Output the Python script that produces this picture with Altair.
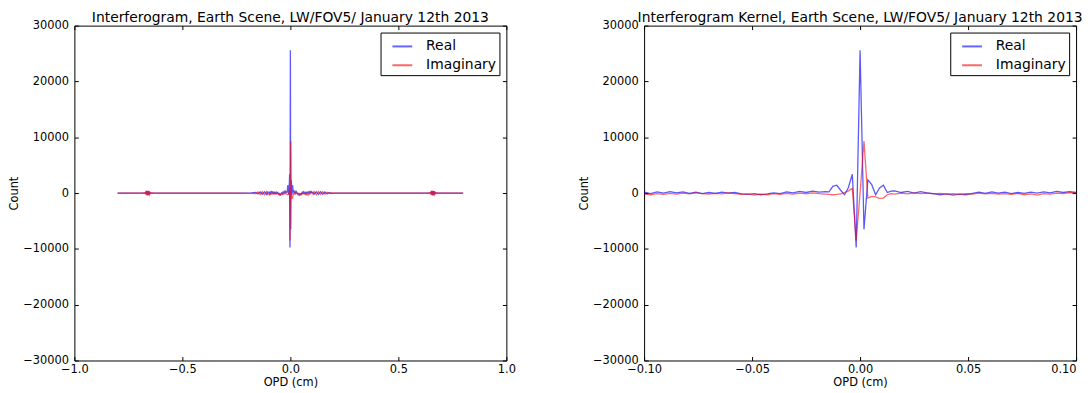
import altair as alt
import pandas as pd

FONT = "DejaVu Sans"
BLUE = "#0000ff"
RED = "#ff0000"

# ---------------- data ----------------
# kernel region (right panel, and centre of left panel)
k_opd_left = [-0.100, -0.097, -0.094, -0.091, -0.088, -0.085, -0.082, -0.079, -0.076, -0.073,
              -0.070, -0.067, -0.064, -0.061, -0.058, -0.055, -0.052, -0.049, -0.046, -0.043,
              -0.040, -0.037, -0.034, -0.031, -0.028, -0.025, -0.022, -0.019, -0.016]
k_real_left = [150, -100, 200, 0, 250, 50, 200, -50, 150, -100,
               100, -50, 150, 0, 100, -150, -250, -100, -300, -150,
               50, -100, 200, 50, 300, 100, 350, 150, 250]
k_imag_left = [-150, -300, -100, -250, -50, -200, 0, -150, 50, -100,
               -200, -50, -150, 50, -100, -250, -150, -350, -200, -300,
               -100, -250, -50, -200, 0, -150, 50, -100, -200]

k_opd_mid = [-0.0144, -0.0126, -0.0108, -0.0090, -0.0072, -0.0054, -0.0036, -0.0018, 0.0,
             0.0018, 0.0036, 0.0054, 0.0072, 0.0090, 0.0108, 0.0126, 0.0144]
k_real_mid = [200, 1200, 1400, 500, -300, 1000, 3370, -9750, 25600,
              -6500, 2350, 1500, -300, 900, 1400, 100, 350]
k_imag_mid = [-250, -300, -250, -150, 100, 400, 850, -8500, 0,
              9300, -900, -600, -700, -950, -900, -300, -100]

k_opd_right = [0.016, 0.019, 0.022, 0.025, 0.028, 0.031, 0.034, 0.037, 0.040, 0.043,
               0.046, 0.049, 0.052, 0.055, 0.058, 0.061, 0.064, 0.067, 0.070, 0.073,
               0.076, 0.079, 0.082, 0.085, 0.088, 0.091, 0.094, 0.097, 0.100]
k_real_right = [400, 100, 300, 0, 250, 50, -100, -300, -150, -350,
                -200, -300, -50, 150, -50, 200, 0, 150, -100, 100,
                -50, 150, 0, 200, 50, 300, 100, 250, 100]
k_imag_right = [-200, 0, -150, 50, -100, 0, -150, -50, -200, -100,
                -250, -100, -200, 0, -150, -50, -200, -100, -250, -50,
                -300, -150, -350, -100, -200, 0, -100, 100, 50]

# outer wings of the full interferogram (left panel only)
w_opd_left = [-0.800, -0.740, -0.690,
              -0.672, -0.669, -0.666, -0.663, -0.660, -0.657, -0.654, -0.651, -0.648,
              -0.630, -0.550, -0.450, -0.350, -0.250,
              -0.180, -0.160, -0.150, -0.140, -0.130, -0.120, -0.110, -0.105]
w_real_left = [0, 0, 0,
               0, 200, -250, 350, -350, 300, -250, 150, 0,
               0, 0, 0, 0, 0,
               50, 100, -150, 200, -200, 250, -250, 200]
w_imag_left = [0, 0, 0,
               50, -300, 400, -450, 450, -400, 350, -250, 50,
               0, 0, 0, 0, 0,
               -50, -100, 200, -250, 250, -300, 300, -250]

w_opd_right = [0.105, 0.110, 0.120, 0.130, 0.140, 0.150, 0.160, 0.170, 0.180, 0.190, 0.200,
               0.250, 0.350, 0.450, 0.550, 0.630,
               0.648, 0.651, 0.654, 0.657, 0.660, 0.663, 0.666, 0.669, 0.672,
               0.690, 0.740, 0.800]
w_real_right = [150, -200, 250, -250, 250, -200, 200, -150, 100, -100, 0,
                0, 0, 0, 0, 0,
                0, 200, -250, 350, -350, 300, -250, 150, 0,
                0, 0, 0]
w_imag_right = [-200, 250, -300, 300, -250, 250, -200, 150, -100, 50, 0,
                0, 0, 0, 0, 0,
                50, -300, 400, -450, 450, -400, 350, -250, 50,
                0, 0, 0]

y_ticks = [-30000, -20000, -10000, 0, 10000, 20000, 30000]
x_ticks_full = [-1.0, -0.5, 0.0, 0.5, 1.0]
x_ticks_kernel = [-0.10, -0.05, 0.0, 0.05, 0.10]
series_names = ["Real", "Imaginary"]

# ---------------- tables ----------------
kernel_df = pd.DataFrame({
    "opd": k_opd_left + k_opd_mid + k_opd_right,
    "real": k_real_left + k_real_mid + k_real_right,
    "imag": k_imag_left + k_imag_mid + k_imag_right,
})
full_df = pd.DataFrame({
    "opd": w_opd_left + k_opd_left + k_opd_mid + k_opd_right + w_opd_right,
    "real": w_real_left + k_real_left + k_real_mid + k_real_right + w_real_right,
    "imag": w_imag_left + k_imag_left + k_imag_mid + k_imag_right + w_imag_right,
})

PW, PH = 436, 338


def panel(df, xdom, xticks, xfmt, title, label_align):
    yscale = alt.Scale(domain=[-30000, 30000], nice=False, zero=False)
    xscale = alt.Scale(domain=xdom, nice=False, zero=False)
    cscale = alt.Scale(domain=series_names, range=[BLUE, RED])
    legend = alt.Legend(title=None, orient="top-right", symbolOpacity=0.6)
    base = alt.Chart(df)
    real = base.mark_line(strokeWidth=1.3, opacity=0.65, clip=True).transform_calculate(
        series="'Real'"
    ).encode(
        x=alt.X("opd:Q", scale=xscale,
                axis=alt.Axis(values=xticks, format=xfmt, title="OPD (cm)", orient="bottom",
                              offset=-4, tickSize=4, domain=False, grid=False,
                              labelPadding=3, labelFlush=False, labelOverlap=False,
                              labelBound=False, titlePadding=2, labelAlign=label_align)),
        y=alt.Y("real:Q", scale=yscale,
                axis=alt.Axis(values=y_ticks, format="d", title="Count", orient="left",
                              offset=-4, tickSize=4, domain=False, grid=False,
                              labelPadding=6, labelOverlap=False, titlePadding=3)),
        color=alt.Color("series:N", scale=cscale, legend=legend),
    )
    imag = base.mark_line(strokeWidth=1.3, opacity=0.6, clip=True).transform_calculate(
        series="'Imaginary'"
    ).encode(
        x=alt.X("opd:Q", scale=xscale,
                axis=alt.Axis(values=xticks, orient="top", labels=False, title=None,
                              offset=-4, tickSize=4, domain=False, grid=False)),
        y=alt.Y("imag:Q", scale=yscale,
                axis=alt.Axis(values=y_ticks, orient="right", labels=False, title=None,
                              offset=-4, tickSize=4, domain=False, grid=False)),
        color=alt.Color("series:N", scale=cscale, legend=legend),
    )
    return alt.layer(real, imag).resolve_axis(x="independent", y="independent").properties(
        width=PW, height=PH,
        title=alt.TitleParams(title, fontSize=14, font=FONT, fontWeight="normal",
                              color="black", anchor="middle", frame="group", offset=-5),
    )


left = panel(full_df, [-1.0, 1.0], x_ticks_full, ".1f",
             "Interferogram, Earth Scene, LW/FOV5/ January 12th 2013", "center")
right = panel(kernel_df, [-0.1, 0.1], x_ticks_kernel, ".2f",
              "Interferogram Kernel, Earth Scene, LW/FOV5/ January 12th 2013",
              {"condition": {"test": "datum.value >= 0.0999", "value": "right"},
               "value": "center"})

chart = alt.hconcat(left, right, spacing=62).resolve_legend(color="independent").properties(
    padding=0, background="white"
).configure_axis(
    labelFont=FONT, titleFont=FONT, labelFontSize=11.5, titleFontSize=11.5,
    titleFontWeight="normal", labelColor="black", titleColor="black",
    tickColor="black", tickWidth=1,
).configure_view(
    stroke="black", strokeWidth=1,
).configure_legend(
    offset=7, strokeColor="black", fillColor="white", padding=3, cornerRadius=0,
    labelFont=FONT, labelFontSize=14, labelColor="black",
    symbolType="stroke", symbolSize=400, symbolStrokeWidth=2,
    rowPadding=1, labelOffset=13, symbolOffset=8,
)

chart.save("out.html", embed_options={"renderer": "svg", "actions": False})
